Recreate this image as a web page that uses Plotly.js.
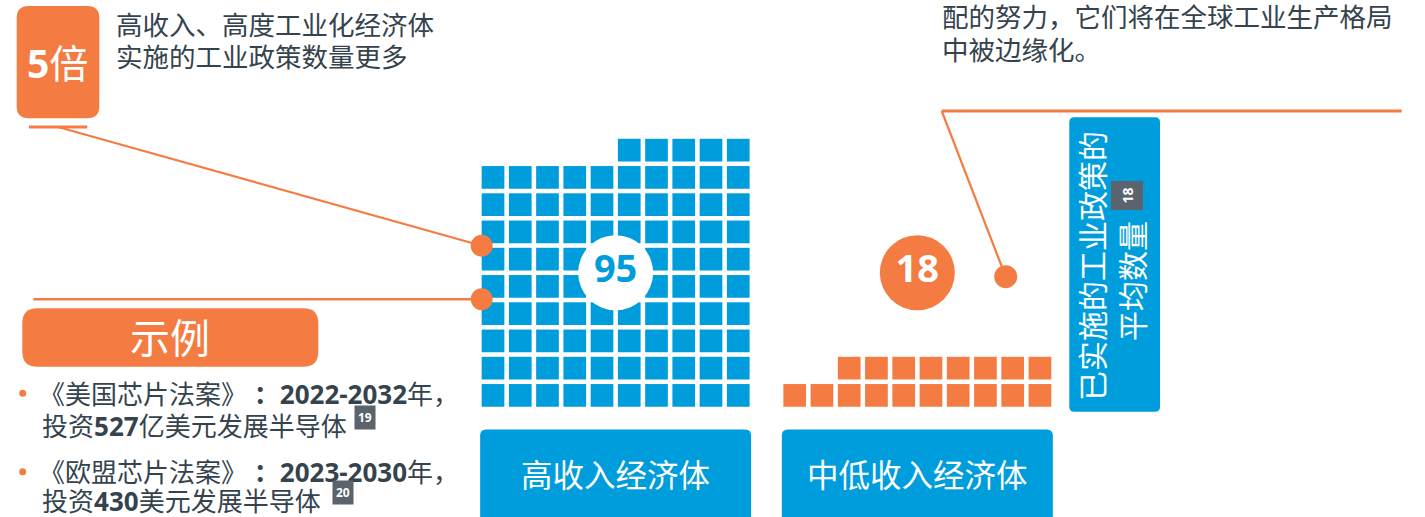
<!DOCTYPE html>
<html>
<head>
<meta charset="utf-8">
<script src="https://cdn.plot.ly/plotly-3.0.1.min.js"></script>
<style>
html,body{margin:0;padding:0;background:#fff;}
#chart{width:1425px;height:517px;}
</style>
</head>
<body>
<div id="chart"></div>
<script>
// ---- data ----
const categories = ['高收入经济体', '中低收入经济体'];
const policyCounts = [95, 18];
const unitsPerRow = 10;
const categoryColors = ['#009ddc', '#f47c42'];
const labelCircleColors = ['#ffffff', '#f47c42'];
const labelTextColors = ['#009ddc', '#ffffff'];
const headlineLines = ['高收入、高度工业化经济体', '实施的工业政策数量更多'];
const noteLines = ['配的努力，它们将在全球工业生产格局', '中被边缘化。'];
const sideTitleLines = ['已实施的工业政策的', '平均数量'];
const sideNoteRef = '18';
const exampleTitle = '示例';
const exampleItems = [
  ['《美国芯片法案》 <b>：2022-2032</b>年，', '投资<b>527</b>亿美元发展半导体', '19'],
  ['《欧盟芯片法案》 <b>：2023-2030</b>年，', '投资<b>430</b>美元发展半导体', '20']
];

// ---- layout constants ----
const FONT = 'Noto Sans, Noto Sans CJK SC, sans-serif';
const ORANGE = '#f47c42';
const BLUE = '#009ddc';
const DARK = '#34434d';
const GRAY = '#5b636d';
const groupLeft = [493.0, 794.7];
const baseY = 395.4;
const pitch = 27.25;
const cellSize = 22.7;

function rr(x0, y0, x1, y1, r) {
  return `M${x0+r},${y0} L${x1-r},${y0} Q${x1},${y0} ${x1},${y0+r} L${x1},${y1-r} Q${x1},${y1} ${x1-r},${y1} L${x0+r},${y1} Q${x0},${y1} ${x0},${y1-r} L${x0},${y0+r} Q${x0},${y0} ${x0+r},${y0} Z`;
}

const traces = [];
categories.forEach((cat, g) => {
  const xs = [], ys = [];
  for (let k = 0; k < policyCounts[g]; k++) {
    const col = unitsPerRow - 1 - (k % unitsPerRow);
    const row = Math.floor(k / unitsPerRow);
    xs.push(groupLeft[g] + col * pitch);
    ys.push(baseY - row * pitch);
  }
  traces.push({
    type: 'scatter', mode: 'markers', x: xs, y: ys, name: cat,
    hoverinfo: 'skip',
    marker: {symbol: 'square', size: cellSize, color: categoryColors[g], line: {width: 0}}
  });
});
// value label circles
categories.forEach((cat, g) => {
  traces.push({
    type: 'scatter', mode: 'markers+text',
    x: [groupLeft[g] + (unitsPerRow - 1) / 2 * pitch],
    y: [baseY - 4.5 * pitch],
    text: [String(policyCounts[g])],
    textposition: 'middle center',
    textfont: {family: FONT, size: 38, color: labelTextColors[g], weight: 700},
    hoverinfo: 'skip',
    marker: {size: 75, color: labelCircleColors[g], line: {width: 0}}
  });
});

const shapes = [];
const annotations = [];

// category boxes
categories.forEach((cat, g) => {
  const cx = groupLeft[g] + (unitsPerRow - 1) / 2 * pitch;
  shapes.push({type: 'path', path: rr(cx - 135.5, 429.5, cx + 135.5, 530, 6), fillcolor: BLUE, line: {width: 0}, layer: 'below'});
  annotations.push({x: cx, y: 474, text: cat, showarrow: false, xanchor: 'center', yanchor: 'middle',
    font: {family: FONT, size: 31.5, color: '#ffffff'}});
});

// headline box
shapes.push({type: 'path', path: rr(16.7, 6, 99.3, 118.3, 12), fillcolor: ORANGE, line: {width: 0}});
annotations.push({x: 57.5, y: 62, text: '<b>5</b>倍', showarrow: false, xanchor: 'center', yanchor: 'middle',
  font: {family: FONT, size: 39, color: '#ffffff'}});
headlineLines.forEach((t, i) => annotations.push({x: 114, y: 25 + i * 32, text: t, showarrow: false,
  xanchor: 'left', yanchor: 'middle', height: 30, font: {family: FONT, size: 26.5, color: DARK}}));

// callout lines (left)
shapes.push({type: 'line', x0: 29, y0: 127, x1: 87.3, y1: 127, line: {color: ORANGE, width: 3}});
shapes.push({type: 'line', x0: 58, y0: 127, x1: 481.7, y1: 245.7, line: {color: ORANGE, width: 2.2}});
shapes.push({type: 'line', x0: 33.3, y0: 299.3, x1: 481.7, y1: 299.3, line: {color: ORANGE, width: 2.5}});
[[481.7, 245.7], [481.7, 299.3]].forEach(p => shapes.push({type: 'circle', x0: p[0] - 11, x1: p[0] + 11, y0: p[1] - 11, y1: p[1] + 11,
  fillcolor: ORANGE, line: {width: 0}}));

// callout lines (right)
shapes.push({type: 'line', x0: 941.7, y0: 111, x1: 1401.7, y1: 111, line: {color: ORANGE, width: 3}});
shapes.push({type: 'line', x0: 941.7, y0: 111, x1: 1005.7, y1: 276.7, line: {color: ORANGE, width: 2.2}});
shapes.push({type: 'circle', x0: 1005.7 - 11.5, x1: 1005.7 + 11.5, y0: 276.7 - 11.5, y1: 276.7 + 11.5, fillcolor: ORANGE, line: {width: 0}});

noteLines.forEach((t, i) => annotations.push({x: 940, y: 17 + i * 33, text: t, showarrow: false,
  xanchor: 'left', yanchor: 'middle', height: 30, font: {family: FONT, size: 26.5, color: DARK}}));

// side vertical box
shapes.push({type: 'path', path: rr(1069.3, 117.3, 1160, 411.7, 5), fillcolor: BLUE, line: {width: 0}});
annotations.push({x: 1092, y: 266, text: sideTitleLines[0], textangle: -90, showarrow: false,
  xanchor: 'center', yanchor: 'middle', font: {family: FONT, size: 30, color: '#ffffff'}});
annotations.push({x: 1132, y: 281, text: sideTitleLines[1], textangle: -90, showarrow: false,
  xanchor: 'center', yanchor: 'middle', font: {family: FONT, size: 30, color: '#ffffff'}});
annotations.push({x: 1126.5, y: 196, text: '<b>' + sideNoteRef + '</b>', textangle: -90, showarrow: false,
  xanchor: 'center', yanchor: 'middle', bgcolor: GRAY, borderpad: 6,
  font: {family: FONT, size: 14, color: '#ffffff'}});

// example box
shapes.push({type: 'path', path: rr(22.3, 308.3, 318.3, 366.7, 15), fillcolor: ORANGE, line: {width: 0}});
annotations.push({x: 170, y: 337, text: exampleTitle, showarrow: false, xanchor: 'center', yanchor: 'middle',
  font: {family: FONT, size: 40, color: '#ffffff'}});

const itemY = [[393.3, 425], [471.7, 500]];
const badgeX = [364.5, 343.3];
exampleItems.forEach((it, i) => {
  shapes.push({type: 'circle', x0: 19.2, x1: 26.2, y0: itemY[i][0] - 3.5, y1: itemY[i][0] + 3.5, fillcolor: ORANGE, line: {width: 0}});
  annotations.push({x: 37, y: itemY[i][0], text: it[0], showarrow: false, xanchor: 'left', yanchor: 'middle',
    height: 27, font: {family: FONT, size: 26, color: DARK}});
  annotations.push({x: 40, y: itemY[i][1], text: it[1], showarrow: false, xanchor: 'left', yanchor: 'middle',
    height: 27, font: {family: FONT, size: 26, color: DARK}});
  annotations.push({x: badgeX[i], y: itemY[i][1] - 8, text: '<b>' + it[2] + '</b>', showarrow: false,
    xanchor: 'center', yanchor: 'middle', bgcolor: GRAY, borderpad: 3,
    font: {family: FONT, size: 12, color: '#ffffff'}});
});

const layout = {
  width: 1425, height: 517,
  margin: {l: 0, r: 0, t: 0, b: 0, pad: 0},
  paper_bgcolor: '#ffffff', plot_bgcolor: '#ffffff',
  showlegend: false,
  xaxis: {range: [0, 1425], visible: false, fixedrange: true, domain: [0, 1]},
  yaxis: {range: [517, 0], visible: false, fixedrange: true, domain: [0, 1]},
  shapes: shapes,
  annotations: annotations
};

Plotly.newPlot('chart', traces, layout, {displayModeBar: false, staticPlot: true});
</script>
</body>
</html>
